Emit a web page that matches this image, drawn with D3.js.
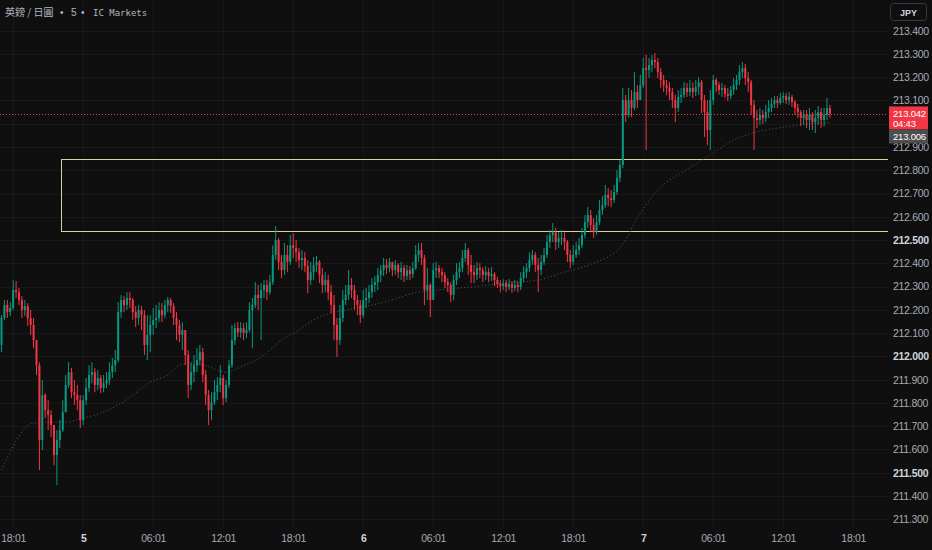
<!DOCTYPE html>
<html>
<head>
<meta charset="utf-8">
<script src="https://cdn.jsdelivr.net/npm/d3@7"></script>
<style>
html, body { margin: 0; padding: 0; background: #0f0f0f; overflow: hidden; }
text { font-family: "Liberation Sans", "Noto Sans", sans-serif; }
</style>
</head>
<body>
<svg id="chart" width="932" height="550"></svg>
<script>
var firstOpen = 212.049;

var closes = [
  212.165, 212.221, 212.190, 212.208, 212.285, 212.276, 212.242, 212.199, 212.216, 212.165,
  212.135, 212.070, 211.962, 211.640, 211.834, 211.769, 211.748, 211.705, 211.576, 211.640,
  211.683, 211.760, 211.877, 211.932, 211.846, 211.834, 211.812, 211.726, 211.812, 211.864,
  211.920, 211.932, 211.877, 211.907, 211.864, 211.885, 211.898, 211.932, 211.962, 211.984,
  212.190, 212.242, 212.221, 212.251, 212.242, 212.190, 212.165, 212.199, 212.177, 212.049,
  212.092, 212.135, 212.156, 212.165, 212.199, 212.177, 212.221, 212.242, 212.216, 212.165,
  212.135, 212.092, 212.113, 212.006, 211.877, 211.932, 211.962, 211.984, 212.018, 211.920,
  211.834, 211.769, 211.803, 211.846, 211.877, 211.907, 211.821, 211.877, 211.962, 212.070,
  212.122, 212.104, 212.122, 212.100, 212.113, 212.199, 212.221, 212.264, 212.251, 212.285,
  212.307, 212.276, 212.319, 212.436, 212.500, 212.406, 212.371, 212.436, 212.406, 212.478,
  212.466, 212.448, 212.414, 212.423, 212.388, 212.328, 212.362, 212.393, 212.406, 212.350,
  212.307, 212.328, 212.276, 212.221, 212.135, 212.070, 212.165, 212.242, 212.264, 212.307,
  212.285, 212.242, 212.221, 212.177, 212.242, 212.251, 212.276, 212.307, 212.319, 212.350,
  212.371, 212.393, 212.380, 212.406, 212.371, 212.393, 212.362, 212.380, 212.345, 212.371,
  212.354, 212.380, 212.436, 212.457, 212.423, 212.285, 212.307, 212.242, 212.371, 212.380,
  212.362, 212.350, 212.319, 212.307, 212.264, 212.328, 212.362, 212.380, 212.423, 212.457,
  212.393, 212.362, 212.350, 212.380, 212.371, 212.350, 212.362, 212.345, 212.354, 212.328,
  212.311, 212.302, 212.315, 212.298, 212.311, 212.294, 212.307, 212.298, 212.337, 212.362,
  212.380, 212.414, 212.436, 212.393, 212.371, 212.406, 212.436, 212.491, 212.522, 212.534,
  212.491, 212.509, 212.509, 212.491, 212.436, 212.406, 212.436, 212.457, 212.478, 212.522,
  212.577, 212.607, 212.565, 212.534, 212.577, 212.629, 212.650, 212.694, 212.681, 212.672,
  212.706, 212.767, 212.823, 213.102, 213.038, 213.102, 213.068, 213.136, 213.102, 213.166,
  213.240, 213.231, 213.252, 213.274, 213.265, 213.222, 213.188, 213.166, 213.154, 213.136,
  213.102, 213.068, 213.115, 213.124, 213.154, 213.136, 213.154, 213.136, 213.158, 213.179,
  213.102, 213.050, 212.973, 213.102, 213.188, 213.166, 213.145, 213.154, 213.128, 213.119,
  213.145, 213.166, 213.188, 213.222, 213.240, 213.197, 213.179, 213.081, 213.025, 213.016,
  213.038, 213.025, 213.050, 213.068, 213.085, 213.102, 213.089, 213.111, 213.119, 213.102,
  213.115, 213.093, 213.068, 213.050, 213.025, 213.038, 213.016, 213.038, 213.007, 213.025,
  213.050, 213.016, 213.038, 213.068, 213.042
];

var highs = [
  212.177, 212.242, 212.242, 212.233, 212.328, 212.324, 212.294, 212.259, 212.242, 212.229,
  212.199, 212.165, 212.070, 211.975, 211.898, 211.842, 211.812, 211.769, 211.705, 211.683,
  211.726, 211.812, 211.920, 211.975, 211.950, 211.898, 211.877, 211.834, 211.834, 211.907,
  211.962, 211.975, 211.950, 211.941, 211.920, 211.920, 211.932, 211.975, 211.993, 212.027,
  212.233, 212.264, 212.259, 212.276, 212.276, 212.251, 212.216, 212.221, 212.216, 212.199,
  212.177, 212.177, 212.208, 212.221, 212.233, 212.229, 212.242, 212.255, 212.251, 212.229,
  212.190, 212.156, 212.147, 212.092, 212.027, 211.975, 212.006, 212.036, 212.049, 212.036,
  211.941, 211.855, 211.846, 211.898, 211.911, 211.962, 211.920, 211.898, 211.984, 212.135,
  212.143, 212.147, 212.147, 212.143, 212.147, 212.233, 212.251, 212.319, 212.307, 212.315,
  212.328, 212.328, 212.350, 212.478, 212.560, 212.509, 212.436, 212.487, 212.478, 212.522,
  212.530, 212.500, 212.466, 212.457, 212.448, 212.414, 212.406, 212.427, 212.431, 212.414,
  212.380, 212.362, 212.350, 212.307, 212.264, 212.165, 212.221, 212.285, 212.307, 212.371,
  212.337, 212.307, 212.264, 212.242, 212.285, 212.294, 212.307, 212.337, 212.345, 212.380,
  212.393, 212.423, 212.419, 212.423, 212.406, 212.414, 212.401, 212.406, 212.393, 212.393,
  212.388, 212.406, 212.478, 212.487, 212.487, 212.436, 212.380, 212.315, 212.401, 212.406,
  212.393, 212.380, 212.362, 212.337, 212.319, 212.350, 212.401, 212.406, 212.457, 212.487,
  212.466, 212.436, 212.393, 212.406, 212.401, 212.384, 212.388, 212.380, 212.384, 212.362,
  212.341, 212.328, 212.332, 212.328, 212.332, 212.324, 212.328, 212.324, 212.362, 212.388,
  212.401, 212.448, 212.457, 212.448, 212.423, 212.436, 212.466, 212.522, 212.543, 212.573,
  212.552, 212.534, 212.543, 212.534, 212.500, 212.457, 212.478, 212.491, 212.509, 212.552,
  212.607, 212.642, 212.629, 212.595, 212.607, 212.672, 212.689, 212.737, 212.724, 212.715,
  212.737, 212.801, 212.844, 213.154, 213.124, 213.154, 213.145, 213.222, 213.166, 213.210,
  213.283, 213.296, 213.283, 213.296, 213.304, 213.283, 213.240, 213.210, 213.188, 213.179,
  213.154, 213.124, 213.145, 213.154, 213.179, 213.175, 213.188, 213.179, 213.188, 213.201,
  213.188, 213.124, 213.102, 213.145, 213.210, 213.197, 213.179, 213.175, 213.166, 213.154,
  213.162, 213.197, 213.210, 213.252, 213.265, 213.257, 213.222, 213.188, 213.102, 213.059,
  213.068, 213.059, 213.081, 213.102, 213.111, 213.119, 213.119, 213.132, 213.136, 213.132,
  213.136, 213.124, 213.102, 213.085, 213.059, 213.059, 213.059, 213.068, 213.050, 213.059,
  213.076, 213.068, 213.068, 213.111, 213.081
];

var lows = [
  212.018, 212.156, 212.165, 212.173, 212.199, 212.251, 212.221, 212.165, 212.173, 212.130,
  212.092, 212.036, 211.920, 211.511, 211.597, 211.735, 211.683, 211.653, 211.532, 211.447,
  211.606, 211.674, 211.760, 211.864, 211.821, 211.791, 211.769, 211.692, 211.705, 211.791,
  211.846, 211.885, 211.846, 211.855, 211.842, 211.846, 211.864, 211.877, 211.907, 211.932,
  211.975, 212.165, 212.190, 212.199, 212.208, 212.156, 212.126, 212.135, 212.113, 212.006,
  211.984, 212.018, 212.092, 212.122, 212.147, 212.147, 212.165, 212.190, 212.186, 212.135,
  212.070, 212.061, 212.027, 211.962, 211.821, 211.855, 211.889, 211.932, 211.962, 211.889,
  211.791, 211.705, 211.726, 211.791, 211.812, 211.846, 211.791, 211.803, 211.864, 211.950,
  212.049, 212.083, 212.079, 212.070, 212.079, 212.104, 212.036, 212.208, 212.199, 212.070,
  212.251, 212.242, 212.264, 212.307, 212.414, 212.371, 212.337, 212.350, 212.362, 212.393,
  212.423, 212.406, 212.380, 212.371, 212.362, 212.272, 212.307, 212.328, 212.362, 212.315,
  212.272, 212.276, 212.242, 212.186, 212.070, 211.997, 212.049, 212.147, 212.221, 212.242,
  212.251, 212.199, 212.177, 212.143, 212.165, 212.208, 212.229, 212.251, 212.276, 212.285,
  212.319, 212.345, 212.354, 212.362, 212.345, 212.350, 212.337, 212.328, 212.319, 212.328,
  212.328, 212.337, 212.371, 212.406, 212.393, 212.221, 212.242, 212.169, 212.242, 212.337,
  212.337, 212.319, 212.294, 212.276, 212.233, 212.242, 212.307, 212.337, 212.362, 212.406,
  212.350, 212.315, 212.315, 212.328, 212.337, 212.319, 212.328, 212.319, 212.324, 212.302,
  212.294, 212.276, 212.285, 212.276, 212.285, 212.272, 212.281, 212.276, 212.285, 212.319,
  212.337, 212.362, 212.393, 212.362, 212.276, 212.350, 212.393, 212.423, 212.466, 212.491,
  212.457, 212.466, 212.478, 212.457, 212.406, 212.380, 212.393, 212.423, 212.436, 212.466,
  212.509, 212.552, 212.534, 212.509, 212.522, 212.565, 212.607, 212.638, 212.646, 212.642,
  212.659, 212.694, 212.749, 212.810, 213.007, 213.025, 213.029, 213.059, 213.068, 213.102,
  213.154, 212.887, 213.197, 213.222, 213.240, 213.197, 213.154, 213.136, 213.124, 213.102,
  213.068, 213.007, 213.050, 213.089, 213.111, 213.115, 213.119, 213.111, 213.119, 213.124,
  213.046, 212.943, 212.908, 212.887, 213.081, 213.136, 213.124, 213.115, 213.111, 213.098,
  213.106, 213.124, 213.145, 213.166, 213.197, 213.166, 213.136, 213.038, 212.887, 212.982,
  212.995, 212.999, 213.007, 213.025, 213.050, 213.068, 213.068, 213.081, 213.089, 213.085,
  213.081, 213.072, 213.038, 213.025, 212.990, 212.995, 212.982, 212.973, 212.973, 212.960,
  212.995, 212.982, 212.990, 213.016, 213.025
];

// moving average, read at a few bar positions
var maIdx = [0, 11, 17, 22, 28, 34, 40, 45, 51, 57, 62, 69, 77, 82, 90, 96, 102, 107, 113, 118,
             130, 143, 149, 161, 172, 184, 192, 203, 212, 219, 226, 233, 243, 251, 259, 268, 274, 284];
var maVal = [211.511, 211.713, 211.717, 211.717, 211.735, 211.756, 211.791, 211.834, 211.889, 211.920,
             211.967, 211.962, 211.932, 211.954, 212.006, 212.070, 212.113, 212.156, 212.186, 212.199,
             212.229, 212.276, 212.285, 212.298, 212.315, 212.328, 212.358, 212.401, 212.466, 212.616,
             212.728, 212.788, 212.866, 212.930, 212.965, 212.985, 212.995, 213.006];

// rectangle zone
var zoneStart = 20.4;
var zoneTop = 212.847;
var zoneBottom = 212.539;

var priceTicks = [213.4, 213.3, 213.2, 213.1, 213.0, 212.9, 212.8, 212.7, 212.6, 212.5, 212.4,
                  212.3, 212.2, 212.1, 212.0, 211.9, 211.8, 211.7, 211.6, 211.5, 211.4, 211.3];
var timeTickIdx = [4, 28, 52, 76, 100, 124, 148, 172, 196, 220, 244, 268, 292];
var timeTickLabels = ["18:01", "5", "06:01", "12:01", "18:01", "6", "06:01", "12:01", "18:01", "7", "06:01", "12:01", "18:01"];
var dayLabels = ["5", "6", "7"];
var countdown = "04:43";

var W = 932, H = 550;
var plotRight = 888, plotBottom = 528;
var up = "#089981", down = "#f23645";

var svg = d3.select("#chart");
svg.append("rect").attr("width", W).attr("height", H).attr("fill", "#0f0f0f");

var x = d3.scaleLinear().domain([0, 284]).range([1.5, 829.9]);
var y = d3.scaleLinear().domain([211.3, 213.4]).range([519.2, 30.7]);

svg.append("clipPath").attr("id", "plot")
  .append("rect").attr("width", plotRight).attr("height", plotBottom);

var plot = svg.append("g").attr("clip-path", "url(#plot)");

// grid
plot.selectAll(".hgrid").data(priceTicks).enter().append("line")
  .attr("x1", 0).attr("x2", plotRight)
  .attr("y1", d => Math.round(y(d)) + 0.5).attr("y2", d => Math.round(y(d)) + 0.5)
  .attr("stroke", "#ffffff").attr("stroke-opacity", 0.04);
plot.selectAll(".vgrid").data(timeTickIdx).enter().append("line")
  .attr("y1", 0).attr("y2", plotBottom)
  .attr("x1", d => Math.round(x(d)) + 0.5).attr("x2", d => Math.round(x(d)) + 0.5)
  .attr("stroke", "#ffffff").attr("stroke-opacity", 0.04);

// zone rectangle
plot.append("rect")
  .attr("x", Math.round(x(zoneStart)) + 0.5)
  .attr("y", Math.round(y(zoneTop)) + 0.5)
  .attr("width", plotRight - Math.round(x(zoneStart)))
  .attr("height", Math.round(y(zoneBottom)) - Math.round(y(zoneTop)))
  .attr("fill", "none")
  .attr("stroke", "#d9d09a")
  .attr("stroke-width", 1);

// moving average
var maLine = d3.line()
  .x((d, i) => x(maIdx[i]))
  .y(d => y(d))
  .curve(d3.curveMonotoneX);
plot.append("path")
  .attr("d", maLine(maVal))
  .attr("fill", "none")
  .attr("stroke", "#5a5a5a")
  .attr("stroke-width", 1)
  .attr("stroke-dasharray", "1,2.5");

// candles
var bars = closes.map(function(c, i) {
  return { i: i, o: i === 0 ? firstOpen : closes[i - 1], h: highs[i], l: lows[i], c: c };
});

var candle = plot.selectAll(".candle").data(bars).enter().append("g");
candle.append("line")
  .attr("x1", d => x(d.i)).attr("x2", d => x(d.i))
  .attr("y1", d => y(d.h)).attr("y2", d => y(d.l))
  .attr("stroke", d => d.c >= d.o ? up : down)
  .attr("stroke-width", 1);
candle.append("rect")
  .attr("x", d => x(d.i) - 1)
  .attr("width", 2)
  .attr("y", d => y(Math.max(d.o, d.c)))
  .attr("height", d => Math.max(1, Math.abs(y(d.o) - y(d.c))))
  .attr("fill", d => d.c >= d.o ? up : down);

// last price line
var last = closes[closes.length - 1];
var ly = y(last);
plot.append("line")
  .attr("x1", 0).attr("x2", plotRight)
  .attr("y1", Math.round(ly) + 0.5).attr("y2", Math.round(ly) + 0.5)
  .attr("stroke", down).attr("stroke-width", 1).attr("stroke-dasharray", "1,2");

// label boxes on the price scale cover the ticks behind them
var boxTop = ly - 7.5, boxBottom = ly + 30;

// price axis
var yAxis = d3.axisRight(y)
  .tickValues(priceTicks.filter(d => y(d) + 5 < boxTop || y(d) - 3 > boxBottom))
  .tickSize(0).tickPadding(0)
  .tickFormat(d3.format(".3f"));
var gy = svg.append("g").attr("transform", "translate(893,0)").call(yAxis);
gy.select(".domain").remove();
gy.selectAll("text")
  .attr("font-size", 10.5)
  .attr("letter-spacing", "-0.3px")
  .attr("fill", d => Math.abs(d * 2 - Math.round(d * 2)) < 1e-6 ? "#d1d4dc" : "#a8abb3")
  .attr("font-weight", d => Math.abs(d * 2 - Math.round(d * 2)) < 1e-6 ? "bold" : "normal");

// time axis
var xAxis = d3.axisBottom(x).tickValues(timeTickIdx).tickSize(0).tickPadding(0)
  .tickFormat((d, i) => timeTickLabels[i]);
var gx = svg.append("g").attr("transform", "translate(0,535)").call(xAxis);
gx.select(".domain").remove();
gx.selectAll("text")
  .attr("font-size", 10.5)
  .attr("letter-spacing", "-0.3px")
  .attr("fill", (d, i) => dayLabels.indexOf(timeTickLabels[i]) >= 0 ? "#d1d4dc" : "#a8abb3")
  .attr("font-weight", (d, i) => dayLabels.indexOf(timeTickLabels[i]) >= 0 ? "bold" : "normal");

// last price / countdown label
svg.append("rect").attr("x", 889).attr("y", boxTop).attr("width", 39).attr("height", 23)
  .attr("fill", down);
svg.append("text").attr("x", 893).attr("y", ly + 3.5).text(d3.format(".3f")(last))
  .attr("fill", "#ffffff").attr("font-size", 9.5).attr("letter-spacing", "-0.2px");
svg.append("text").attr("x", 893).attr("y", ly + 13.5).text(countdown)
  .attr("fill", "#ffffff").attr("font-size", 9.5).attr("letter-spacing", "-0.2px");

// moving average value label
var maLast = maVal[maVal.length - 1];
svg.append("rect").attr("x", 889).attr("y", boxTop + 23).attr("width", 39).attr("height", 14)
  .attr("fill", "#4d4d4d");
svg.append("text").attr("x", 893).attr("y", boxTop + 34).text(d3.format(".3f")(maLast))
  .attr("fill", "#ffffff").attr("font-size", 9.5).attr("letter-spacing", "-0.2px");

// currency box
svg.append("rect").attr("x", 890.5).attr("y", 3.5).attr("width", 36).attr("height", 17).attr("rx", 3)
  .attr("fill", "#0f0f0f").attr("stroke", "#3a3a3a");
svg.append("text").attr("x", 908.5).attr("y", 15.5).attr("text-anchor", "middle").text("JPY")
  .attr("fill", "#d1d4dc").attr("font-size", 9).attr("font-weight", "bold");

// title
var title = svg.append("text").attr("y", 15.5).attr("fill", "#b2b5be").attr("font-size", 10);
title.append("tspan").attr("x", 5).attr("font-family", "'Noto Sans CJK TC', sans-serif").text("英鎊 / 日圓");
title.append("tspan").attr("x", 60).text("•");
title.append("tspan").attr("x", 71).text("5");
title.append("tspan").attr("x", 81).text("•");
title.append("tspan").attr("x", 93).attr("font-family", "'DejaVu Sans Mono', monospace").attr("font-size", 9).text("IC Markets");
</script>
</body>
</html>
